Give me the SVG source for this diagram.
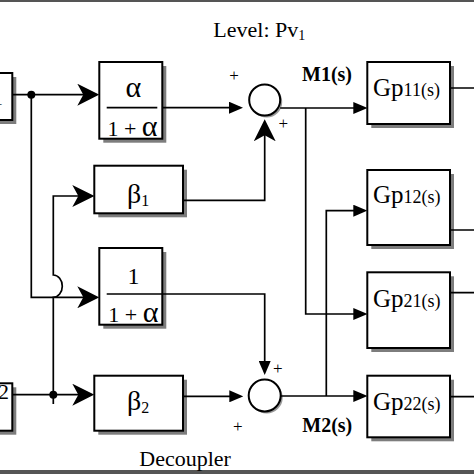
<svg xmlns="http://www.w3.org/2000/svg" width="474" height="474" viewBox="0 0 474 474">
<style>
.box{fill:#fff;stroke:#000;stroke-width:2}
.sh{fill:#7d7d7d}
.ln{fill:none;stroke:#000;stroke-width:1.7}
.t{font-family:"Liberation Serif","Times New Roman",serif;fill:#000}
.pl{font-family:"Liberation Serif",serif;font-size:17px;fill:#000;text-anchor:middle}
</style>
<defs>
<marker id="barb" viewBox="0 0 22 22" refX="19" refY="11" markerWidth="22" markerHeight="22" markerUnits="userSpaceOnUse" orient="auto">
<path d="M22,11 L0,0 L6,11 L0,22 Z" fill="#000"/>
</marker>
<marker id="tri" viewBox="0 0 14 12" refX="11" refY="6" markerWidth="14" markerHeight="12" markerUnits="userSpaceOnUse" orient="auto">
<path d="M14,6 L0,0 L0,12 Z" fill="#000"/>
</marker>
</defs>
<rect width="474" height="474" fill="#fff"/>
<rect x="0" y="0" width="474" height="2" fill="#555"/>
<rect x="0" y="470" width="474" height="4" fill="#555"/>

<text class="t" x="213.3" y="37.3" font-size="22">Level: Pv<tspan font-size="14" dy="3">1</tspan></text>
<text class="t" x="139.3" y="465.7" font-size="22">Decoupler</text>

<g id="in1">
<rect class="sh" x="-6" y="77" width="22.3" height="47"/>
<rect class="box" x="-10" y="73" width="22.3" height="47"/>
<text class="t" x="3" y="105" font-size="22" text-anchor="end">1</text>
</g>
<g id="in2">
<rect class="sh" x="-6" y="387.3" width="22.3" height="47.4"/>
<rect class="box" x="-10" y="383.3" width="22.3" height="47.4"/>
<text class="t" x="9" y="399" font-size="22" text-anchor="end">2</text>
</g>
<g id="alpha">
<rect class="sh" x="103.3" y="66" width="63" height="76.7"/>
<rect class="box" x="99.3" y="62" width="63" height="76.7"/>
<path class="ln" d="M106.7,107.7 H157.3"/>
<text class="t" x="133.3" y="97" font-size="30" text-anchor="middle">α</text>
<text class="t" x="132.5" y="136" font-size="22" text-anchor="middle">1 + <tspan font-size="30">α</tspan></text>
</g>
<g id="beta1">
<rect class="sh" x="98.3" y="169.7" width="88.7" height="47.6"/>
<rect class="box" x="94.3" y="165.7" width="88.7" height="47.6"/>
<text class="t" x="138" y="203" font-size="28" text-anchor="middle">β<tspan font-size="16" dy="3">1</tspan></text>
</g>
<g id="inv">
<rect class="sh" x="103.3" y="252" width="63" height="76.7"/>
<rect class="box" x="99.3" y="248" width="63" height="76.7"/>
<text class="t" x="133.5" y="284" font-size="24" text-anchor="middle">1</text>
<text class="t" x="133.3" y="321.7" font-size="22" text-anchor="middle">1 + <tspan font-size="30">α</tspan></text>
</g>
<g id="beta2">
<rect class="sh" x="98.3" y="379.7" width="88.7" height="55"/>
<rect class="box" x="94.3" y="375.7" width="88.7" height="55"/>
<text class="t" x="138" y="410" font-size="28" text-anchor="middle">β<tspan font-size="16" dy="3">2</tspan></text>
</g>
<g id="sum1">
<circle cx="266.7" cy="102" r="15.5" fill="#999"/>
<circle cx="264.7" cy="100" r="15.5" fill="#fff" stroke="#000" stroke-width="2"/>
<text class="pl" x="234" y="81">+</text>
<text class="pl" x="283.3" y="129">+</text>
</g>
<g id="sum2">
<circle cx="266.7" cy="397.5" r="16" fill="#999"/>
<circle cx="264.7" cy="395.5" r="16" fill="#fff" stroke="#000" stroke-width="2"/>
<text class="pl" x="277.7" y="374">+</text>
<text class="pl" x="237.7" y="432">+</text>
</g>
<g id="gp11">
<rect class="sh" x="371.3" y="66" width="82.7" height="62"/>
<rect class="box" x="367.3" y="62" width="82.7" height="62"/>
<text class="t" x="373" y="96" font-size="25">Gp<tspan font-size="18">11(s)</tspan></text>
</g>
<g id="gp12">
<rect class="sh" x="371.3" y="174" width="82.7" height="75"/>
<rect class="box" x="367.3" y="170" width="82.7" height="75"/>
<text class="t" x="373" y="203" font-size="25">Gp<tspan font-size="18">12(s)</tspan></text>
</g>
<g id="gp21">
<rect class="sh" x="371.3" y="276.3" width="82.7" height="75.7"/>
<rect class="box" x="367.3" y="272.3" width="82.7" height="75.7"/>
<text class="t" x="373" y="306.7" font-size="25">Gp<tspan font-size="18">21(s)</tspan></text>
</g>
<g id="gp22">
<rect class="sh" x="371.3" y="379.7" width="82.7" height="61.6"/>
<rect class="box" x="367.3" y="375.7" width="82.7" height="61.6"/>
<text class="t" x="373" y="410" font-size="25">Gp<tspan font-size="18">22(s)</tspan></text>
</g>

<text class="t" x="302" y="81" font-size="20" font-weight="bold">M1(s)</text>
<text class="t" x="302.3" y="432.3" font-size="20" font-weight="bold">M2(s)</text>

<g id="connectors">
<path class="ln" d="M12.3,94.7 H96.3" marker-end="url(#barb)"/>
<path class="ln" d="M31.3,94.7 V297.3 H96.3" marker-end="url(#barb)"/>
<path class="ln" d="M53.3,404 V297.3 A9,11.15 0 0 0 53.3,275 V196 H91.3" marker-end="url(#barb)"/>
<path class="ln" d="M12.3,394.7 H91.3" marker-end="url(#barb)"/>
<path class="ln" d="M162.3,107.7 H240" marker-end="url(#tri)"/>
<path class="ln" d="M183,200.3 H264.7 V122.3" marker-end="url(#barb)"/>
<path class="ln" d="M106.7,294 H264.7 V372" marker-end="url(#tri)"/>
<path class="ln" d="M183,396.3 H240.3" marker-end="url(#tri)"/>
<path class="ln" d="M280.2,108 H364.3" marker-end="url(#tri)"/>
<path class="ln" d="M305.7,108 V314 H364.3" marker-end="url(#tri)"/>
<path class="ln" d="M280.7,396 H364.3" marker-end="url(#tri)"/>
<path class="ln" d="M326.3,396 V210.7 H364.3" marker-end="url(#tri)"/>
<path class="ln" d="M450,88 H474 M450,230 H474 M450,292.7 H474 M450,396.7 H474"/>
<circle cx="31.3" cy="94.7" r="4" fill="#000"/>
<circle cx="53.3" cy="394.7" r="4" fill="#000"/>
</g>
</svg>
